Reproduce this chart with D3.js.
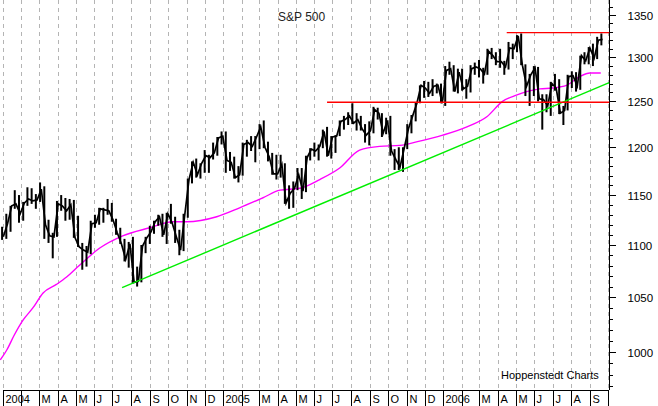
<!DOCTYPE html>
<html><head><meta charset="utf-8">
<script src="https://cdn.jsdelivr.net/npm/d3@7"></script>
<style>html,body{margin:0;padding:0;background:#fff}svg{display:block}</style>
</head><body>
<svg id="c" width="658" height="406"></svg>
<script>
const title = "S&P 500";
const credit = "Hoppenstedt Charts";
const yTickValues = [1000, 1050, 1100, 1150, 1200, 1250, 1300, 1350];

// Weekly high / low / close (weeks ending Friday, Jan 2 2004 .. Sep 22 2006)
const weekHigh = [
  // 2004
  1118,1131,1139,1155,1150,1143,1158,1157,1151,1163,1159,1125,1112,
  1144,1150,1147,1146,1145,1129,1102,1099,1124,1130,1137,1137,1146,
  1142,1126,1117,1106,1103,1108,1079,1100,1108,1119,1124,1130,1131,
  1132,1141,1128,1115,1131,1167,1185,1188,1183,1197,1192,1205,1211,1217,
  // 2005
  1217,1195,1190,1180,1205,1208,1212,1212,1225,1229,1206,1194,
  1192,1192,1183,1160,1164,1178,1178,1191,1199,1205,1203,1219,1222,
  1212,1213,1229,1234,1238,1248,1237,1234,1225,1228,1244,1243,1237,1232,
  1234,1198,1200,1200,1225,1235,1249,1268,1273,1272,1275,1270,1270,
  // 2006
  1290,1295,1291,1287,1287,1275,1291,1294,
  1297,1288,1310,1311,1306,1310,1296,1318,1316,
  1326,1328,1292,1281,1290,1289,1258,1258,1272,
  1281,1275,1245,1280,1284,1283,1302,1306,
  1312,1316,1324,1328
];
const weekLow = [
  // 2004
  1105,1106,1113,1136,1122,1124,1139,1141,1136,1143,1106,1102,1087,
  1108,1134,1124,1125,1107,1098,1076,1079,1091,1117,1120,1122,1130,
  1123,1110,1101,1084,1078,1063,1060,1064,1092,1101,1111,1119,1108,
  1101,1121,1102,1090,1094,1127,1162,1168,1167,1173,1173,1187,1191,1203,
  // 2005
  1173,1175,1167,1163,1170,1190,1196,1184,1198,1199,1185,1171,
  1166,1168,1141,1136,1137,1155,1146,1153,1186,1190,1186,1199,1190,
  1188,1194,1212,1219,1224,1225,1218,1218,1205,1202,1215,1230,1211,1214,
  1191,1176,1176,1174,1198,1215,1228,1248,1254,1255,1256,1259,1248,
  // 2006
  1245,1280,1261,1259,1262,1253,1260,1280,
  1277,1270,1280,1298,1291,1288,1280,1286,1298,
  1306,1291,1256,1245,1256,1250,1219,1238,1234,
  1262,1236,1224,1240,1265,1261,1263,1292,
  1292,1290,1298,1314
];
const weekClose = [
  // 2004
  1108,1121,1139,1141,1131,1142,1146,1144,1145,1156,1120,1109,1108,
  1141,1139,1134,1140,1107,1098,1095,1093,1121,1122,1136,1135,1134,
  1125,1112,1101,1086,1101,1064,1065,1099,1107,1113,1123,1128,1110,
  1131,1122,1108,1095,1130,1166,1184,1171,1183,1191,1189,1194,1210,1212,
  // 2005
  1186,1184,1168,1171,1203,1205,1201,1211,1222,1200,1190,1172,
  1172,1182,1142,1152,1157,1171,1154,1189,1198,1196,1201,1217,1191,
  1211,1212,1228,1230,1234,1226,1230,1220,1213,1218,1241,1237,1215,1229,
  1196,1187,1179,1199,1220,1234,1248,1268,1265,1259,1267,1268,1248,
  // 2006
  1285,1287,1261,1283,1264,1267,1287,1289,
  1287,1281,1307,1302,1295,1295,1289,1311,1310,
  1325,1291,1267,1280,1288,1253,1252,1245,1270,
  1265,1237,1240,1278,1279,1267,1302,1296,
  1311,1299,1320,1321
];

// 200-day moving average (magenta)
const maDates = ["2003-12-28","2004-01-08","2004-01-20","2004-02-04","2004-02-20","2004-03-08","2004-03-30","2004-04-16","2004-05-07","2004-06-10","2004-07-18","2004-09-01","2004-10-09","2004-11-01","2004-12-21","2005-01-28","2005-03-07","2005-04-05","2005-05-08","2005-06-10","2005-07-13","2005-08-15","2005-09-17","2005-10-21","2005-11-19","2005-12-31","2006-02-09","2006-03-14","2006-04-09","2006-05-02","2006-05-19","2006-06-10","2006-07-01","2006-07-24","2006-08-15","2006-09-01","2006-09-19"];
const maValues = [993,1002,1015,1029,1040,1054,1062,1069,1080,1097,1109,1117,1123,1123,1128,1137,1147,1155,1157,1166,1178,1197,1201,1202,1206,1213,1222,1233,1250,1257,1261,1264,1265,1268,1278,1282,1282];

// Trend line (green) and horizontal levels (red)
const trendDates = ["2004-07-17", "2006-10-03"];
const trendValues = [1059, 1271];
const supportDates = ["2005-06-22", "2006-10-03"];
const supportValues = [1249, 1249];
const resistDates = ["2006-04-16", "2006-10-03"];
const resistValues = [1329, 1329];

const parse = d3.timeParse("%Y-%m-%d");
const FONT = "'Liberation Sans', Arial, sans-serif";
const svg = d3.select("#c");

const x = d3.scaleTime().domain([new Date(2004, 0, 1), new Date(2006, 9, 1)]).range([2.7, 608]);
const y = d3.scaleLog().domain([1000, 1350]).range([352, 15]);

const fridays = d3.timeFriday.range(new Date(2004, 0, 2), new Date(2006, 8, 23));
const mids = fridays.map(d => d3.timeDay.offset(d, -2));

const months = d3.timeMonth.range(new Date(2004, 0, 1), new Date(2006, 9, 2));
const px = d => Math.round(x(d)) + 0.5;

// vertical dashed month gridlines
svg.append("g").selectAll("line").data(months).join("line")
  .attr("x1", px).attr("x2", px).attr("y1", 0).attr("y2", 388)
  .attr("stroke", "#b4b4b4").attr("stroke-dasharray", "4,4")
  .attr("shape-rendering", "crispEdges");

// bottom label row
const row = svg.append("g");
row.append("line").attr("x1", px(months[0])).attr("x2", px(months[months.length - 1]) + 0.5)
  .attr("y1", 390.5).attr("y2", 390.5).attr("stroke", "#000").attr("shape-rendering", "crispEdges");
row.selectAll("line.sep").data(months).join("line").attr("class", "sep")
  .attr("x1", px).attr("x2", px).attr("y1", 390).attr("y2", 406)
  .attr("stroke", "#000").attr("shape-rendering", "crispEdges");
row.selectAll("text").data(months.slice(0, -1).filter(d => d.getMonth() !== 1)).join("text")
  .attr("x", d => px(d) + 2).attr("y", 402.5)
  .attr("font-family", FONT).attr("font-size", 11).attr("fill", "#000")
  .text(d => d.getMonth() === 0 ? d3.timeFormat("%Y")(d) : d3.timeFormat("%B")(d)[0]);

// right axis
svg.append("line").attr("x1", 609.5).attr("x2", 609.5).attr("y1", 0).attr("y2", 390)
  .attr("stroke", "#000").attr("shape-rendering", "crispEdges");
const minorAxis = d3.axisRight(y).tickValues(d3.range(970, 1361, 10)).tickSize(3).tickFormat("");
const gMinor = svg.append("g").attr("transform", "translate(609.5,0)").call(minorAxis);
gMinor.select(".domain").remove();
const majorAxis = d3.axisRight(y).tickValues(yTickValues).tickSize(6).tickPadding(12).tickFormat(d3.format("d"));
const gMajor = svg.append("g").attr("transform", "translate(609.5,0)").call(majorAxis);
gMajor.select(".domain").remove();
svg.selectAll(".tick line").attr("shape-rendering", "crispEdges").attr("stroke", "#000");
gMajor.selectAll("text").attr("font-family", FONT).attr("font-size", 11.5).attr("fill", "#000").attr("dy", "0.36em");

// moving average
svg.append("path")
  .datum(maDates.map((d, i) => [parse(d), maValues[i]]))
  .attr("d", d3.line().x(d => x(d[0])).y(d => y(d[1])).curve(d3.curveMonotoneX))
  .attr("fill", "none").attr("stroke", "#ff00ff").attr("stroke-width", 1.4);

// price bars
const gp = svg.append("g");
gp.selectAll("line").data(weekHigh).join("line")
  .attr("x1", (d, i) => x(mids[i])).attr("x2", (d, i) => x(mids[i]))
  .attr("y1", d => y(d)).attr("y2", (d, i) => y(weekLow[i]))
  .attr("stroke", "#000").attr("stroke-width", 2);
gp.append("path")
  .datum(weekClose.map((c, i) => [fridays[i], c]))
  .attr("d", d3.line().x(d => x(d[0])).y(d => y(d[1])))
  .attr("fill", "none").attr("stroke", "#000").attr("stroke-width", 1.7);

// trend line and levels
const straight = d3.line().x(d => x(d[0])).y(d => y(d[1]));
function seg(dates, vals, color) {
  svg.append("path").datum(dates.map((d, i) => [parse(d), vals[i]]))
    .attr("d", straight).attr("fill", "none").attr("stroke", color).attr("stroke-width", 1.4);
}
seg(trendDates, trendValues, "#00ee00");
seg(supportDates, supportValues, "#ff0000");
seg(resistDates, resistValues, "#ff0000");

// titles
svg.append("text").attr("x", 278).attr("y", 21).attr("font-family", FONT).attr("font-size", 12)
  .attr("fill", "#222").text(title);
svg.append("text").attr("x", 501).attr("y", 379).attr("font-family", FONT).attr("font-size", 11)
  .attr("fill", "#000").text(credit);
</script>
</body></html>
